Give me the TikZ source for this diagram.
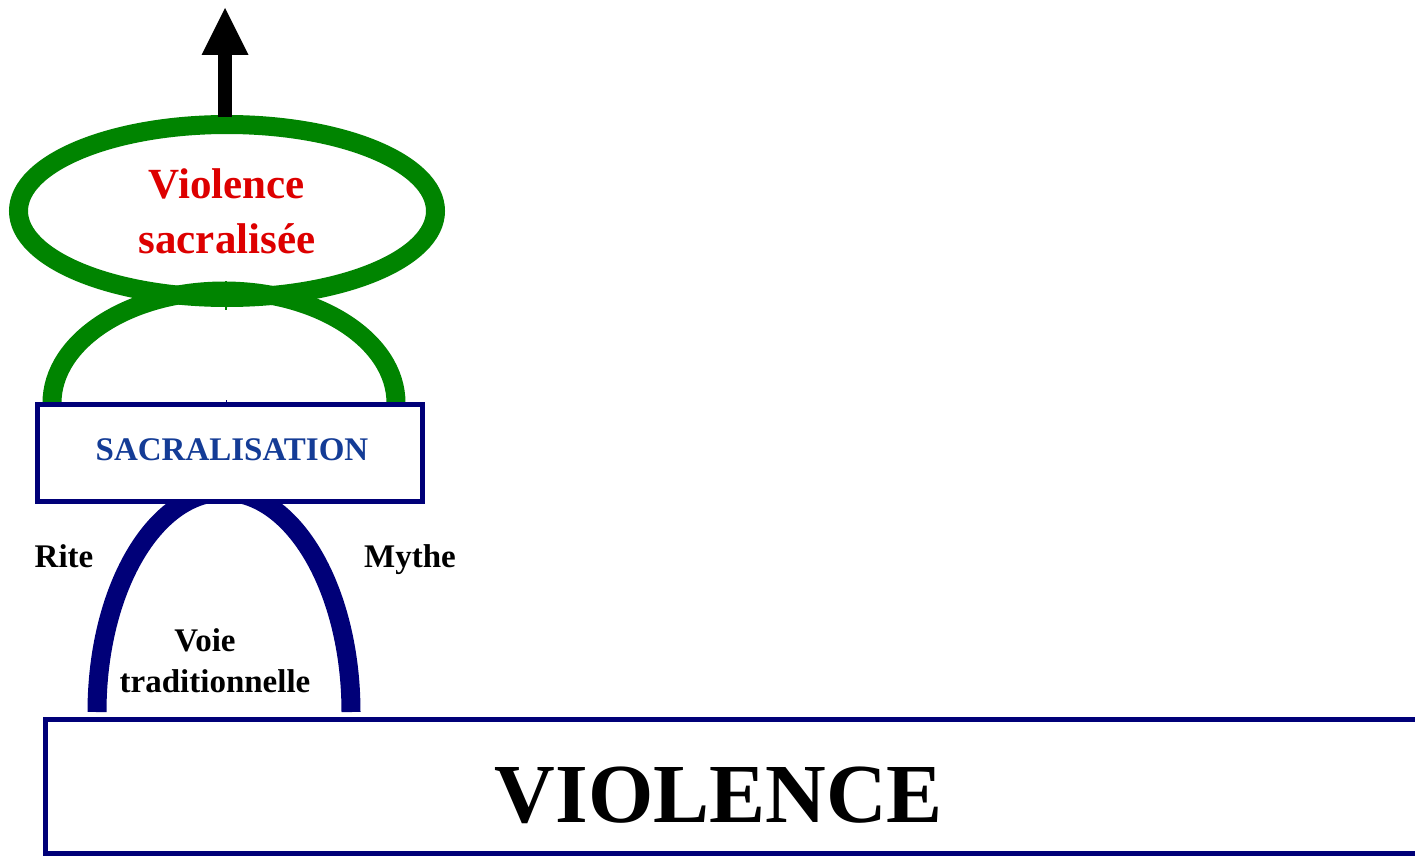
\documentclass[tikz,border=0pt]{standalone}
\usepackage{fontspec}
\setmainfont{Liberation Serif}
\usetikzlibrary{shapes.geometric,arrows.meta}
\definecolor{grn}{RGB}{0,132,0}
\definecolor{nvy}{RGB}{0,0,120}
\definecolor{bluetxt}{RGB}{20,60,150}
\definecolor{redtxt}{RGB}{221,0,0}
\tikzset{
  greenline/.style={draw=grn, line width=19pt},
  navyline/.style={draw=nvy, line width=19pt},
  boxframe/.style={draw=nvy, line width=5pt, fill=white, rectangle, inner sep=0pt},
  lbl/.style={font=\bfseries\fontsize{33}{40}\selectfont, text=black, inner sep=0pt},
}
\begin{document}
\begin{tikzpicture}[x=1pt,y=-1pt]
\clip (0,0) rectangle (1415,856);
\fill[white] (0,0) rectangle (1415,856);

% green arch above SACRALISATION
\coordinate (gL) at (52,403);
\draw[greenline] (gL) arc[start angle=180, end angle=360, x radius=172, y radius=112] coordinate (gR);
\draw[grn, line width=1.2pt] (226,281) -- (226,310);

% ellipse
\node[ellipse, draw=grn, line width=19pt, minimum width=417pt, minimum height=173pt, inner sep=0pt,
      align=center, text=redtxt, font=\bfseries\fontsize{43}{55}\selectfont]
      (ell) at (227,211) {Violence\\sacralisée};

% arrow up
\coordinate (tip) at (225,8);
\draw[line width=14pt, -{Triangle[length=47pt,width=47pt,line width=0pt]}] ([yshift=-2pt]ell.north -| tip) -- (tip);

% navy arch (Voie traditionnelle)
\coordinate (bL) at (97,712);
\draw[navyline] (bL) arc[start angle=180, end angle=360, x radius=127, y radius=220] coordinate (bR);

% SACRALISATION box
\node[boxframe, minimum width=385pt, minimum height=97pt] (sacr) at (230,453) {};
\node[anchor=base, text=bluetxt, inner sep=0pt, font=\bfseries\fontsize{33}{40}\selectfont] (sacrtxt) at (232,460) {SACRALISATION};
\draw[nvy, line width=1pt] (226,400) -- (sacr.north -| 226,0);

% labels
\node[lbl, anchor=base] (rite) at (64,567) {Rite};
\node[lbl, anchor=base] (mythe) at (410,567) {Mythe};
\node[lbl, anchor=base] (voie) at (205,651) {Voie};
\node[lbl, anchor=base] (trad) at (215,692) {traditionnelle};

% VIOLENCE box
\node[boxframe, minimum width=1400pt, minimum height=134pt, anchor=north west] (viol) at (42.5,716.5) {};
\node[anchor=base, inner sep=0pt, font=\bfseries\fontsize{84}{90}\selectfont] (violtxt) at (719,822) {VIOLENCE};
\end{tikzpicture}
\end{document}
